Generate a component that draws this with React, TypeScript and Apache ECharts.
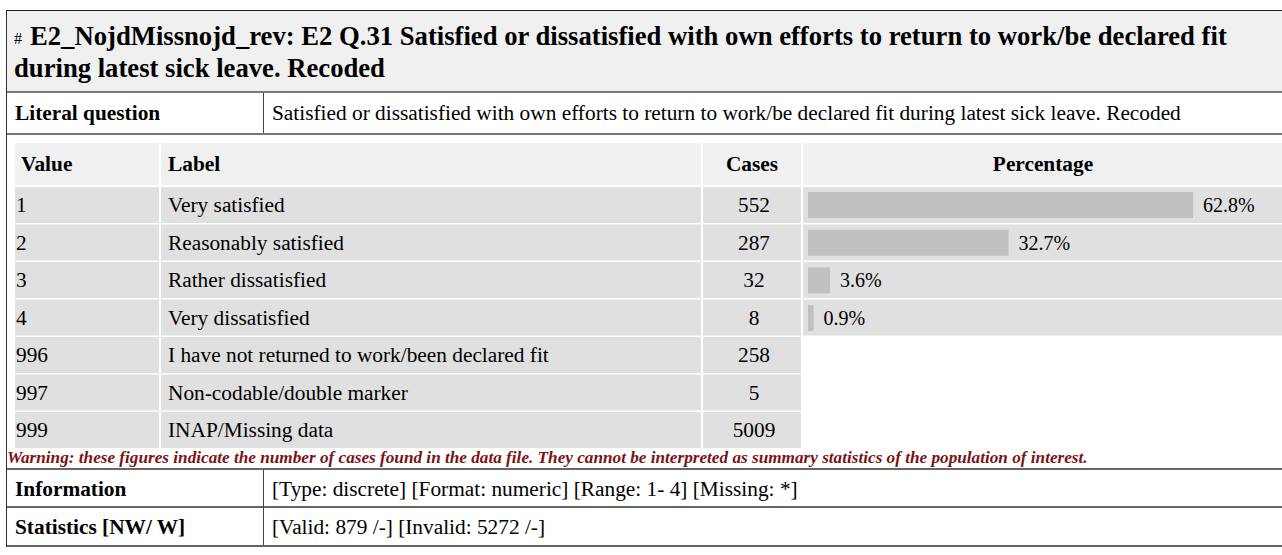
import React, { useEffect, useRef } from "react";
import * as echarts from "echarts";

const titleHash = "#";
const titleLine1 = "E2_NojdMissnojd_rev: E2 Q.31 Satisfied or dissatisfied with own efforts to return to work/be declared fit";
const titleLine2 = "during latest sick leave. Recoded";
const literalLabel = "Literal question";
const literalText = "Satisfied or dissatisfied with own efforts to return to work/be declared fit during latest sick leave. Recoded";
const headers = ["Value", "Label", "Cases", "Percentage"];
const values = ["1", "2", "3", "4", "996", "997", "999"];
const labels = [
  "Very satisfied",
  "Reasonably satisfied",
  "Rather dissatisfied",
  "Very dissatisfied",
  "I have not returned to work/been declared fit",
  "Non-codable/double marker",
  "INAP/Missing data",
];
const cases = [552, 287, 32, 8, 258, 5, 5009];
const validValues = ["1", "2", "3", "4"];
const percentages = [62.8, 32.7, 3.6, 0.9];
const warningText =
  "Warning: these figures indicate the number of cases found in the data file. They cannot be interpreted as summary statistics of the population of interest.";
const infoRows = [
  ["Information", "[Type: discrete] [Format: numeric] [Range: 1- 4] [Missing: *]"],
  ["Statistics [NW/ W]", "[Valid: 879 /-] [Invalid: 5272 /-]"],
];

const FONT = '"Liberation Serif", "Times New Roman", serif';
const BODY = 21.33;

export default function App() {
  const ref = useRef<HTMLDivElement>(null);
  useEffect(() => {
    if (!ref.current) return;
    const chart = echarts.init(ref.current, null, { renderer: "svg" });
    const W = 1282;
    const g: any[] = [];
    const txt = (text: string, x: number, y: number, opts: any = {}) =>
      g.push({
        type: "text",
        z: 5,
        style: {
          text,
          x,
          y,
          fontFamily: FONT,
          fontSize: BODY,
          fill: "#000",
          verticalAlign: "middle",
          align: "left",
          ...opts,
        },
      });
    const rect = (x: number, y: number, w: number, h: number, fill: string, z = 0) =>
      g.push({ type: "rect", z, shape: { x, y, width: w, height: h }, style: { fill } });
    const line = (x1: number, y1: number, x2: number, y2: number, stroke: string, lw = 1) =>
      g.push({ type: "line", z: 3, shape: { x1, y1, x2, y2 }, style: { stroke, lineWidth: lw } });

    // title block
    rect(7, 11, W, 80, "#f0f0f0");
    txt(titleHash, 14, 38, { fontSize: 16 });
    txt(titleLine1, 30, 36, { fontSize: 26.67, fontWeight: "bold" });
    txt(titleLine2, 14, 68, { fontSize: 26.67, fontWeight: "bold" });
    line(6, 92, W, 92, "#777", 2);
    // literal question
    txt(literalLabel, 15, 113, { fontWeight: "bold" });
    txt(literalText, 272, 113);
    line(263.5, 93, 263.5, 133, "#444", 1);
    line(6, 134, W, 134, "#777", 2);

    // frequency table
    const cols = [
      { x: 15, w: 144 },
      { x: 161, w: 540 },
      { x: 703, w: 98 },
      { x: 803, w: 480 },
    ];
    cols.forEach((c) => rect(c.x, 143, c.w, 42, "#f0f0f0"));
    txt(headers[0], 21, 164, { fontWeight: "bold" });
    txt(headers[1], 168, 164, { fontWeight: "bold" });
    txt(headers[2], 752, 164, { fontWeight: "bold", align: "center" });
    txt(headers[3], 1043, 164, { fontWeight: "bold", align: "center" });
    const pitch = 37.5;
    values.forEach((v, i) => {
      const top = 187 + pitch * i;
      const cy = top + 18;
      rect(cols[0].x, top, cols[0].w, 36, "#e0e0e0");
      rect(cols[1].x, top, cols[1].w, 36, "#e0e0e0");
      rect(cols[2].x, top, cols[2].w, 36, "#e0e0e0");
      if (i < validValues.length) rect(cols[3].x, top, cols[3].w, 36, "#e0e0e0");
      txt(v, 16, cy);
      txt(labels[i], 168, cy);
      txt(String(cases[i]), 754, cy, { align: "center" });
    });
    txt(warningText, 7, 457, { fontSize: 17.2, fontWeight: "bold", fontStyle: "italic", fill: "#7a1414" });

    // info rows
    line(6, 469, W, 469, "#666", 2);
    infoRows.forEach((r, i) => {
      const cy = 489 + 38 * i;
      txt(r[0], 15, cy, { fontWeight: "bold" });
      txt(r[1], 272, cy);
    });
    line(6, 507, W, 507, "#666", 2);
    line(263.5, 470, 263.5, 546, "#444", 1);
    line(6, 546, W, 546, "#666", 2);

    // outer border
    line(6.5, 10, 6.5, 547, "#333", 1);
    line(6, 10.5, W, 10.5, "#222", 1);

    chart.setOption({
      animation: false,
      grid: { left: 808, top: 186, right: 0, height: 151 },
      xAxis: { type: "value", min: 0, max: 77.3, show: false },
      yAxis: { type: "category", data: validValues, inverse: true, show: false },
      graphic: { elements: g },
      series: [
        {
          type: "bar",
          z: 10,
          data: percentages,
          barWidth: 26,
          barMinHeight: 4,
          itemStyle: { color: "#c0c0c0" },
          label: {
            show: true,
            position: "right",
            distance: 10,
            formatter: (p: any) => p.value + "%",
            fontFamily: FONT,
            fontSize: 20,
            color: "#000",
          },
        },
      ],
    });
    return () => chart.dispose();
  }, []);
  return <div ref={ref} style={{ position: "absolute", left: 0, top: 0, width: 1282, height: 555 }} />;
}
